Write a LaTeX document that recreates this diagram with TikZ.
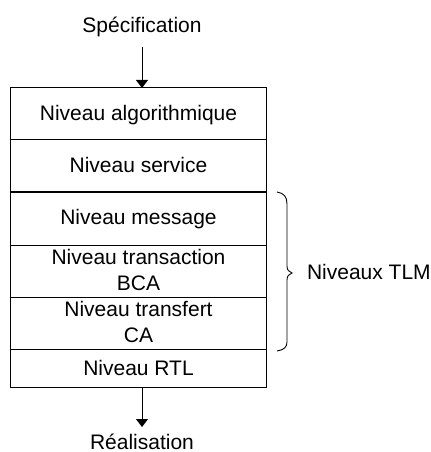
\documentclass[tikz,border=0pt]{standalone}
\usepackage{fontspec}
\setmainfont{Liberation Sans}
\usetikzlibrary{arrows.meta}
\begin{document}
\begin{tikzpicture}[x=1bp,y=-1bp,
  every node/.style={font=\fontsize{21bp}{25bp}\selectfont, inner sep=0pt, outer sep=0pt},
  rowbox/.style={draw, line width=1bp, minimum width=256bp, anchor=north west},
  lbl/.style={anchor=base},
  arr/.style={line width=1bp, -{Triangle[width=12bp,length=8bp]}}]
\useasboundingbox (0,0) rectangle (430,452);
\node[rowbox, minimum height=52bp] (r1) at (10.5,88) {};
\node[rowbox, minimum height=52bp] (r2) at (10.5,140) {};
\node[rowbox, minimum height=53bp] (r3) at (10.5,192) {};
\node[rowbox, minimum height=52bp] (r4) at (10.5,245) {};
\node[rowbox, minimum height=52bp] (r5) at (10.5,297) {};
\node[rowbox, minimum height=38bp] (r6) at (10.5,349) {};
\node[lbl] (t1) at (138.5,120.5) {Niveau algorithmique};
\node[lbl] (t2) at (138.5,172.5) {Niveau service};
\node[lbl] (t3) at (138.5,225) {Niveau message};
\node[lbl] (t4a) at (138.5,264.7) {Niveau transaction};
\node[lbl] (t4b) at (138.5,290.2) {BCA};
\node[lbl] (t5a) at (138.5,316.7) {Niveau transfert};
\node[lbl] (t5b) at (138.5,342.5) {CA};
\node[lbl] (t6) at (138.5,375.8) {Niveau RTL};
\node[lbl] (spec) at (142,33) {Spécification};
\node[lbl] (real) at (142,449) {Réalisation};
\node[anchor=base west] (tlm) at (307,279) {Niveaux TLM};
\coordinate (atop) at (142,47);
\coordinate (abot) at (142,427);
\draw[arr] (atop) -- (r1.north -| atop);
\draw[arr] (r6.south -| abot) -- (abot);
\draw[line width=0.9bp] (277,192) .. controls (284,193) and (287,197) .. (287,204) -- (287,266)
  .. controls (287,270) and (289,272) .. (292,273) .. controls (289,274) and (287,276) .. (287,280)
  -- (287,342) .. controls (287,347) and (284,350) .. (277,351);
\end{tikzpicture}
\end{document}
